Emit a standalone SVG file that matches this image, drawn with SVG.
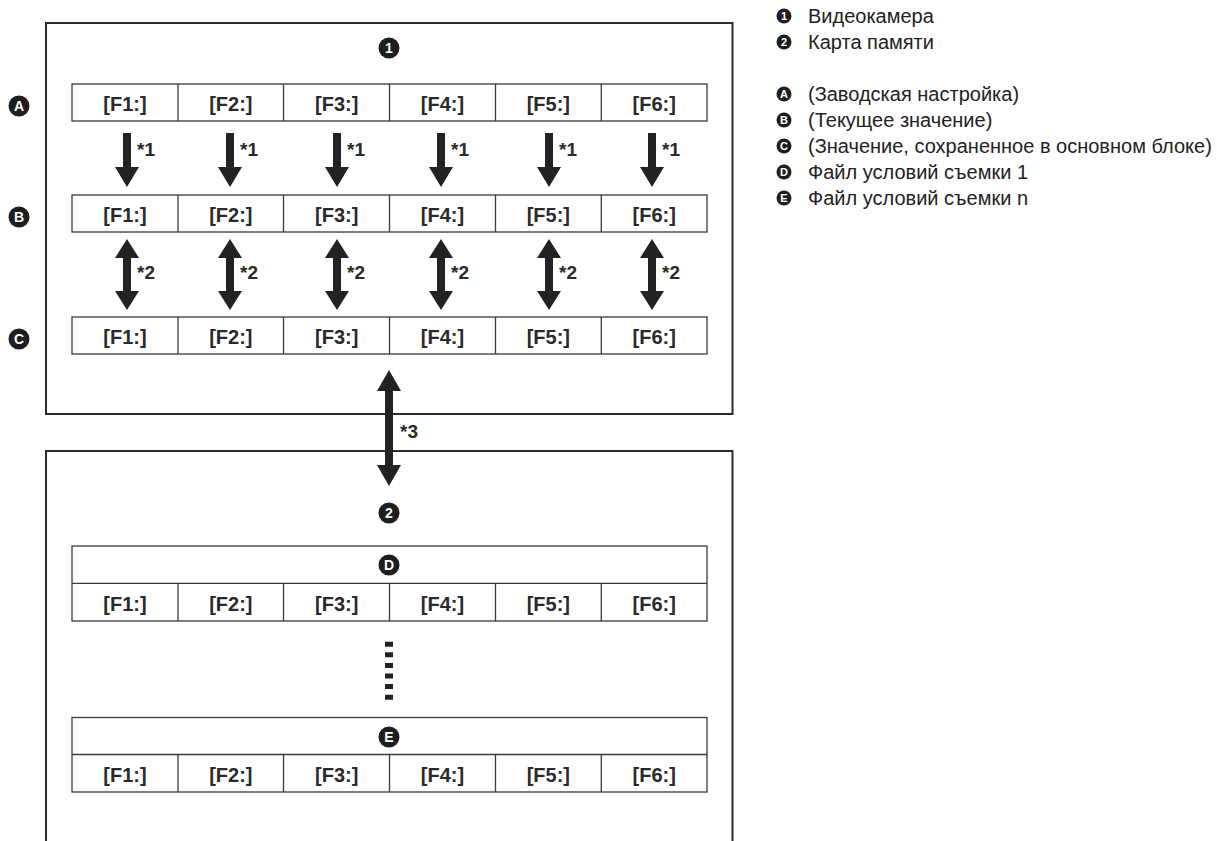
<svg xmlns="http://www.w3.org/2000/svg" width="1217" height="841" viewBox="0 0 1217 841">
<style>
.frame{fill:none;stroke:#2a2a2a;stroke-width:2}
.cell{fill:#fff;stroke:#3a3a3a;stroke-width:1.3}
.ft{font-family:"Liberation Sans",Arial,sans-serif;font-weight:bold;font-size:20px;fill:#2a2a2a;text-anchor:middle}
.lbl{font-family:"Liberation Sans",Arial,sans-serif;font-weight:bold;font-size:19px;fill:#2a2a2a}
.arr{fill:#222}
.bd{fill:#1e1e1e}
.bt{font-family:"Liberation Sans",Arial,sans-serif;font-weight:bold;font-size:14px;fill:#fff;text-anchor:middle}
.lbt{font-family:"Liberation Sans",Arial,sans-serif;font-weight:bold;font-size:11px;fill:#fff;text-anchor:middle}
.lg{font-family:"Liberation Sans",Arial,sans-serif;font-size:20px;fill:#222}
</style>

<g id="camera">
  <rect class="frame" x="46" y="23" width="686.5" height="391"/>
  <circle class="bd" cx="389" cy="48" r="10.5"/><text class="bt" x="389" y="53">1</text>
</g>

<g id="card">
  <path class="frame" d="M46,842 V451 H732.5 V842"/>
  <circle class="bd" cx="389" cy="513" r="10.5"/><text class="bt" x="389" y="518">2</text>
</g>

<g id="label-A">
  <circle class="bd" cx="19" cy="106" r="10.5"/><text class="bt" x="19" y="111">A</text>
</g>
<g id="label-B">
  <circle class="bd" cx="19" cy="217" r="10.5"/><text class="bt" x="19" y="222">B</text>
</g>
<g id="label-C">
  <circle class="bd" cx="19" cy="339" r="10.5"/><text class="bt" x="19" y="344">C</text>
</g>

<g id="row-A">
  <rect class="cell" x="72" y="84" width="635" height="37"/>
  <path class="cell" d="M178,84V121M283.5,84V121M389.5,84V121M495.5,84V121M601.3,84V121"/>
  <text class="ft" x="125" y="111">[F1:]</text><text class="ft" x="230.8" y="111">[F2:]</text><text class="ft" x="336.7" y="111">[F3:]</text><text class="ft" x="442.5" y="111">[F4:]</text><text class="ft" x="548.3" y="111">[F5:]</text><text class="ft" x="654.2" y="111">[F6:]</text>
</g>

<g id="row-B">
  <rect class="cell" x="72" y="195" width="635" height="37"/>
  <path class="cell" d="M178,195V232M283.5,195V232M389.5,195V232M495.5,195V232M601.3,195V232"/>
  <text class="ft" x="125" y="222">[F1:]</text><text class="ft" x="230.8" y="222">[F2:]</text><text class="ft" x="336.7" y="222">[F3:]</text><text class="ft" x="442.5" y="222">[F4:]</text><text class="ft" x="548.3" y="222">[F5:]</text><text class="ft" x="654.2" y="222">[F6:]</text>
</g>

<g id="row-C">
  <rect class="cell" x="72" y="317" width="635" height="37"/>
  <path class="cell" d="M178,317V354M283.5,317V354M389.5,317V354M495.5,317V354M601.3,317V354"/>
  <text class="ft" x="125" y="344">[F1:]</text><text class="ft" x="230.8" y="344">[F2:]</text><text class="ft" x="336.7" y="344">[F3:]</text><text class="ft" x="442.5" y="344">[F4:]</text><text class="ft" x="548.3" y="344">[F5:]</text><text class="ft" x="654.2" y="344">[F6:]</text>
</g>

<g id="file-D">
  <rect class="cell" x="72" y="546" width="635" height="75"/>
  <path class="cell" d="M72,583.3H707M178,583.3V621M283.5,583.3V621M389.5,583.3V621M495.5,583.3V621M601.3,583.3V621"/>
  <circle class="bd" cx="389" cy="565" r="10.5"/><text class="bt" x="389" y="570">D</text>
  <text class="ft" x="125" y="610.5">[F1:]</text><text class="ft" x="230.8" y="610.5">[F2:]</text><text class="ft" x="336.7" y="610.5">[F3:]</text><text class="ft" x="442.5" y="610.5">[F4:]</text><text class="ft" x="548.3" y="610.5">[F5:]</text><text class="ft" x="654.2" y="610.5">[F6:]</text>
</g>

<g id="file-E">
  <rect class="cell" x="72" y="717.5" width="635" height="74.5"/>
  <path class="cell" d="M72,754.5H707M178,754.5V792M283.5,754.5V792M389.5,754.5V792M495.5,754.5V792M601.3,754.5V792"/>
  <circle class="bd" cx="389" cy="737" r="10.5"/><text class="bt" x="389" y="742">E</text>
  <text class="ft" x="125" y="781.5">[F1:]</text><text class="ft" x="230.8" y="781.5">[F2:]</text><text class="ft" x="336.7" y="781.5">[F3:]</text><text class="ft" x="442.5" y="781.5">[F4:]</text><text class="ft" x="548.3" y="781.5">[F5:]</text><text class="ft" x="654.2" y="781.5">[F6:]</text>
</g>

<g id="ellipsis">
  <line x1="389" y1="641.7" x2="389" y2="700" stroke="#222" stroke-width="8" stroke-dasharray="5 5.6"/>
</g>

<g id="connectors">
  <defs>
    <polygon id="down" points="-4,133 4,133 4,167 12,167 0,187 -12,167 -4,167"/>
    <polygon id="both" points="0,239 12,258 4,258 4,291 12,291 0,310 -12,291 -4,291 -4,258 -12,258"/>
  </defs>
  <g class="arr">
    <use href="#down" x="127"/><use href="#down" x="230"/><use href="#down" x="337"/><use href="#down" x="441"/><use href="#down" x="549"/><use href="#down" x="652"/>
    <use href="#both" x="127"/><use href="#both" x="230"/><use href="#both" x="337"/><use href="#both" x="441"/><use href="#both" x="549"/><use href="#both" x="652"/>
    <polygon points="389,370 401,391 393,391 393,465 401,465 389,486 377,465 385,465 385,391 377,391"/>
  </g>
  <text class="lbl" x="137" y="156">*1</text><text class="lbl" x="240" y="156">*1</text><text class="lbl" x="347" y="156">*1</text><text class="lbl" x="451" y="156">*1</text><text class="lbl" x="559" y="156">*1</text><text class="lbl" x="662" y="156">*1</text>
  <text class="lbl" x="137" y="279">*2</text><text class="lbl" x="240" y="279">*2</text><text class="lbl" x="347" y="279">*2</text><text class="lbl" x="451" y="279">*2</text><text class="lbl" x="559" y="279">*2</text><text class="lbl" x="662" y="279">*2</text>
  <text class="lbl" x="400" y="438">*3</text>
</g>

<g id="legend">
  <circle class="bd" cx="784" cy="16" r="7.5"/><text class="lbt" x="784" y="20">1</text>
  <text class="lg" x="808" y="23">Видеокамера</text>
  <circle class="bd" cx="784" cy="42" r="7.5"/><text class="lbt" x="784" y="46">2</text>
  <text class="lg" x="808" y="49">Карта памяти</text>
  <circle class="bd" cx="784" cy="94" r="7.5"/><text class="lbt" x="784" y="98">A</text>
  <text class="lg" x="808" y="101">(Заводская настройка)</text>
  <circle class="bd" cx="784" cy="120" r="7.5"/><text class="lbt" x="784" y="124">B</text>
  <text class="lg" x="808" y="127">(Текущее значение)</text>
  <circle class="bd" cx="784" cy="146" r="7.5"/><text class="lbt" x="784" y="150">C</text>
  <text class="lg" x="808" y="153">(Значение, сохраненное в основном блоке)</text>
  <circle class="bd" cx="784" cy="172" r="7.5"/><text class="lbt" x="784" y="176">D</text>
  <text class="lg" x="808" y="179">Файл условий съемки 1</text>
  <circle class="bd" cx="784" cy="198" r="7.5"/><text class="lbt" x="784" y="202">E</text>
  <text class="lg" x="808" y="205">Файл условий съемки n</text>
</g>
</svg>
